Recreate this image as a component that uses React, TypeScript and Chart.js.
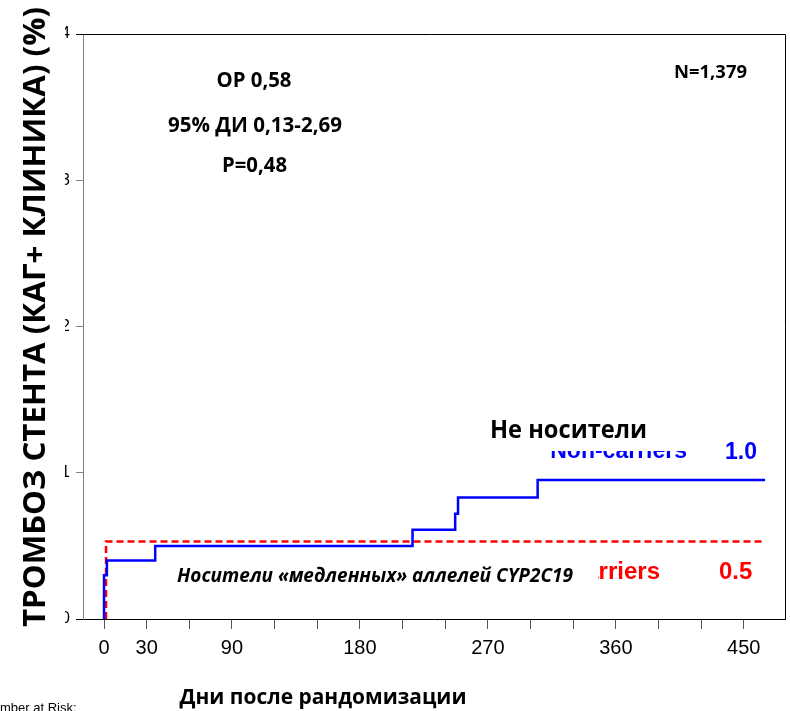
import React, { useEffect, useRef } from 'react';
import { Chart, registerables } from 'chart.js';
Chart.register(...registerables);

// Kaplan–Meier step data (days, cumulative %)
const nonCarrierDays = [0, 0, 2, 36, 217, 247, 249, 305, 465];
const nonCarrierRisk = [0, 0.3, 0.4, 0.5, 0.61, 0.72, 0.83, 0.95, 0.95];
const carrierDays = [1.4, 1.4, 464];
const carrierRisk = [0, 0.53, 0.53];

const xTickValues = [0, 30, 60, 90, 120, 150, 180, 210, 240, 270, 300, 330, 360, 390, 420, 450];
const xTickLabels = [0, 30, 90, 180, 270, 360, 450];
const yTickValues = [0, 1, 2, 3, 4];

const yTitle = 'ТРОМБОЗ СТЕНТА (КАГ+ КЛИНИКА) (%)';
const xTitle = 'Дни после рандомизации';
const statLines = ['ОР 0,58', '95% ДИ 0,13-2,69', 'P=0,48'];
const nLabel = 'N=1,379';
const nonCarrierRu = 'Не носители';
const nonCarrierEn = 'Non-carriers';
const nonCarrierEnd = '1.0';
const carrierRu = 'Носители «медленных» аллелей CYP2C19';
const carrierEn = 'Carriers';
const carrierEnd = '0.5';
const riskLabel = 'Number at Risk:';

const SANS = '"Liberation Sans", Arial, sans-serif';
const CAL = '"Open Sans", sans-serif';

function fitText(
  ctx: CanvasRenderingContext2D,
  text: string,
  cx: number,
  baseY: number,
  width: number,
  font: string,
  color: string,
  rotate = 0
) {
  ctx.save();
  ctx.font = font;
  const w = ctx.measureText(text).width;
  ctx.translate(cx, baseY);
  if (rotate) ctx.rotate(rotate);
  ctx.scale(width / w, 1);
  ctx.fillStyle = color;
  ctx.textAlign = 'center';
  ctx.textBaseline = 'alphabetic';
  ctx.fillText(text, 0, 0);
  ctx.restore();
}

function plainText(
  ctx: CanvasRenderingContext2D,
  text: string,
  x: number,
  baseY: number,
  font: string,
  color: string,
  align: CanvasTextAlign
) {
  ctx.save();
  ctx.font = font;
  ctx.fillStyle = color;
  ctx.textAlign = align;
  ctx.textBaseline = 'alphabetic';
  ctx.fillText(text, x, baseY);
  ctx.restore();
}

const overlayPlugin = {
  id: 'overlay',
  afterDraw(chart: any) {
    const ctx: CanvasRenderingContext2D = chart.ctx;
    const a = chart.chartArea;
    ctx.save();
    // frame top and right, and axis line extension
    ctx.strokeStyle = '#000';
    ctx.lineWidth = 1;
    ctx.beginPath();
    ctx.moveTo(76, Math.round(a.top) + 0.5);
    ctx.lineTo(a.right + 0.5, Math.round(a.top) + 0.5);
    ctx.lineTo(a.right + 0.5, a.bottom);
    ctx.stroke();
    ctx.beginPath();
    ctx.moveTo(76, Math.round(a.bottom) + 0.5);
    ctx.lineTo(a.left, Math.round(a.bottom) + 0.5);
    ctx.stroke();

    // y tick labels are partially hidden in the reference
    ctx.fillStyle = '#fff';
    ctx.fillRect(0, 0, 65, 650);
    ctx.restore();

    // y title
    fitText(ctx, yTitle, 45, 317, 620, `bold 31px ${CAL}`, '#000', -Math.PI / 2);

    // stats
    fitText(ctx, statLines[0], 254, 87, 75, `bold 21px ${CAL}`, '#000');
    fitText(ctx, statLines[1], 255, 132, 174, `bold 21px ${CAL}`, '#000');
    fitText(ctx, statLines[2], 254.5, 172, 65, `bold 21px ${CAL}`, '#000');
    fitText(ctx, nLabel, 710.5, 78, 73, `bold 18px ${CAL}`, '#000');

    // non-carriers label (english partly covered)
    plainText(ctx, nonCarrierEn, 687, 458, `bold 23px ${SANS}`, '#0000ff', 'right');
    ctx.save();
    ctx.fillStyle = '#fff';
    ctx.fillRect(470, 405, 232, 46);
    ctx.restore();
    fitText(ctx, nonCarrierRu, 568.5, 438, 157, `bold 25px ${CAL}`, '#000');
    plainText(ctx, nonCarrierEnd, 725, 459, `bold 23px ${SANS}`, '#0000ff', 'left');

    // carriers label (english partly covered)
    plainText(ctx, carrierEn, 660, 579, `bold 24px ${SANS}`, '#ff0000', 'right');
    ctx.save();
    ctx.fillStyle = '#fff';
    ctx.fillRect(170, 555, 428, 38);
    ctx.restore();
    fitText(ctx, carrierRu, 375, 582, 396, `italic bold 19px ${CAL}`, '#000');
    plainText(ctx, carrierEnd, 719, 579, `bold 24px ${SANS}`, '#ff0000', 'left');

    // x title
    fitText(ctx, xTitle, 323, 704, 287, `bold 21px ${CAL}`, '#000');

    // number at risk (cut at left and bottom)
    ctx.save();
    ctx.font = `13px ${SANS}`;
    const nu = ctx.measureText('Nu').width;
    ctx.restore();
    plainText(ctx, riskLabel, -nu, 711.5, `13px ${SANS}`, '#000', 'left');
  },
};

export default function App() {
  const ref = useRef<HTMLCanvasElement | null>(null);
  useEffect(() => {
    if (!ref.current) return;
    const chart = new Chart(ref.current, {
      type: 'line',
      data: {
        datasets: [
          {
            label: nonCarrierEn,
            data: nonCarrierDays.map((d, i) => ({ x: d, y: nonCarrierRisk[i] })),
            borderColor: '#0000ff',
            borderWidth: 2.5,
            pointRadius: 0,
            stepped: 'before',
            fill: false,
          },
          {
            label: carrierEn,
            data: carrierDays.map((d, i) => ({ x: d, y: carrierRisk[i] })),
            borderColor: '#ff0000',
            borderWidth: 2.5,
            borderDash: [7, 4],
            pointRadius: 0,
            stepped: 'before',
            fill: false,
          },
        ],
      },
      options: {
        animation: false,
        responsive: false,
        layout: { padding: { top: 34, right: 5, left: 0, bottom: 0 } },
        plugins: { legend: { display: false }, tooltip: { enabled: false }, title: { display: false } },
        scales: {
          x: {
            type: 'linear',
            min: -14.8,
            max: 479,
            afterBuildTicks: (s: any) => {
              s.ticks = xTickValues.map((v) => ({ value: v }));
            },
            afterFit: (s: any) => {
              s.height = 92;
            },
            ticks: {
              autoSkip: false,
              maxRotation: 0,
              color: '#000',
              font: { family: SANS, size: 20 },
              padding: 7,
              callback: (v: any) => (xTickLabels.includes(Number(v)) ? String(v) : ''),
            },
            grid: { drawOnChartArea: false, drawTicks: true, tickLength: 10, color: '#555' },
            border: { display: true, color: '#000', width: 1 },
          },
          y: {
            type: 'linear',
            min: 0,
            max: 4,
            afterBuildTicks: (s: any) => {
              s.ticks = yTickValues.map((v) => ({ value: v }));
            },
            afterFit: (s: any) => {
              s.width = 83;
            },
            ticks: {
              color: '#000',
              font: { family: SANS, size: 16 },
              padding: 6,
            },
            grid: { drawOnChartArea: false, drawTicks: true, tickLength: 7, color: '#808080' },
            border: { display: true, color: '#808080', width: 1 },
          },
        },
      },
      plugins: [overlayPlugin],
    } as any);
    return () => chart.destroy();
  }, []);
  return (
    <div style={{ position: 'fixed', left: 0, top: 0, width: 790, height: 711, background: '#fff' }}>
      <canvas ref={ref} width={790} height={711} style={{ display: 'block' }} />
    </div>
  );
}
